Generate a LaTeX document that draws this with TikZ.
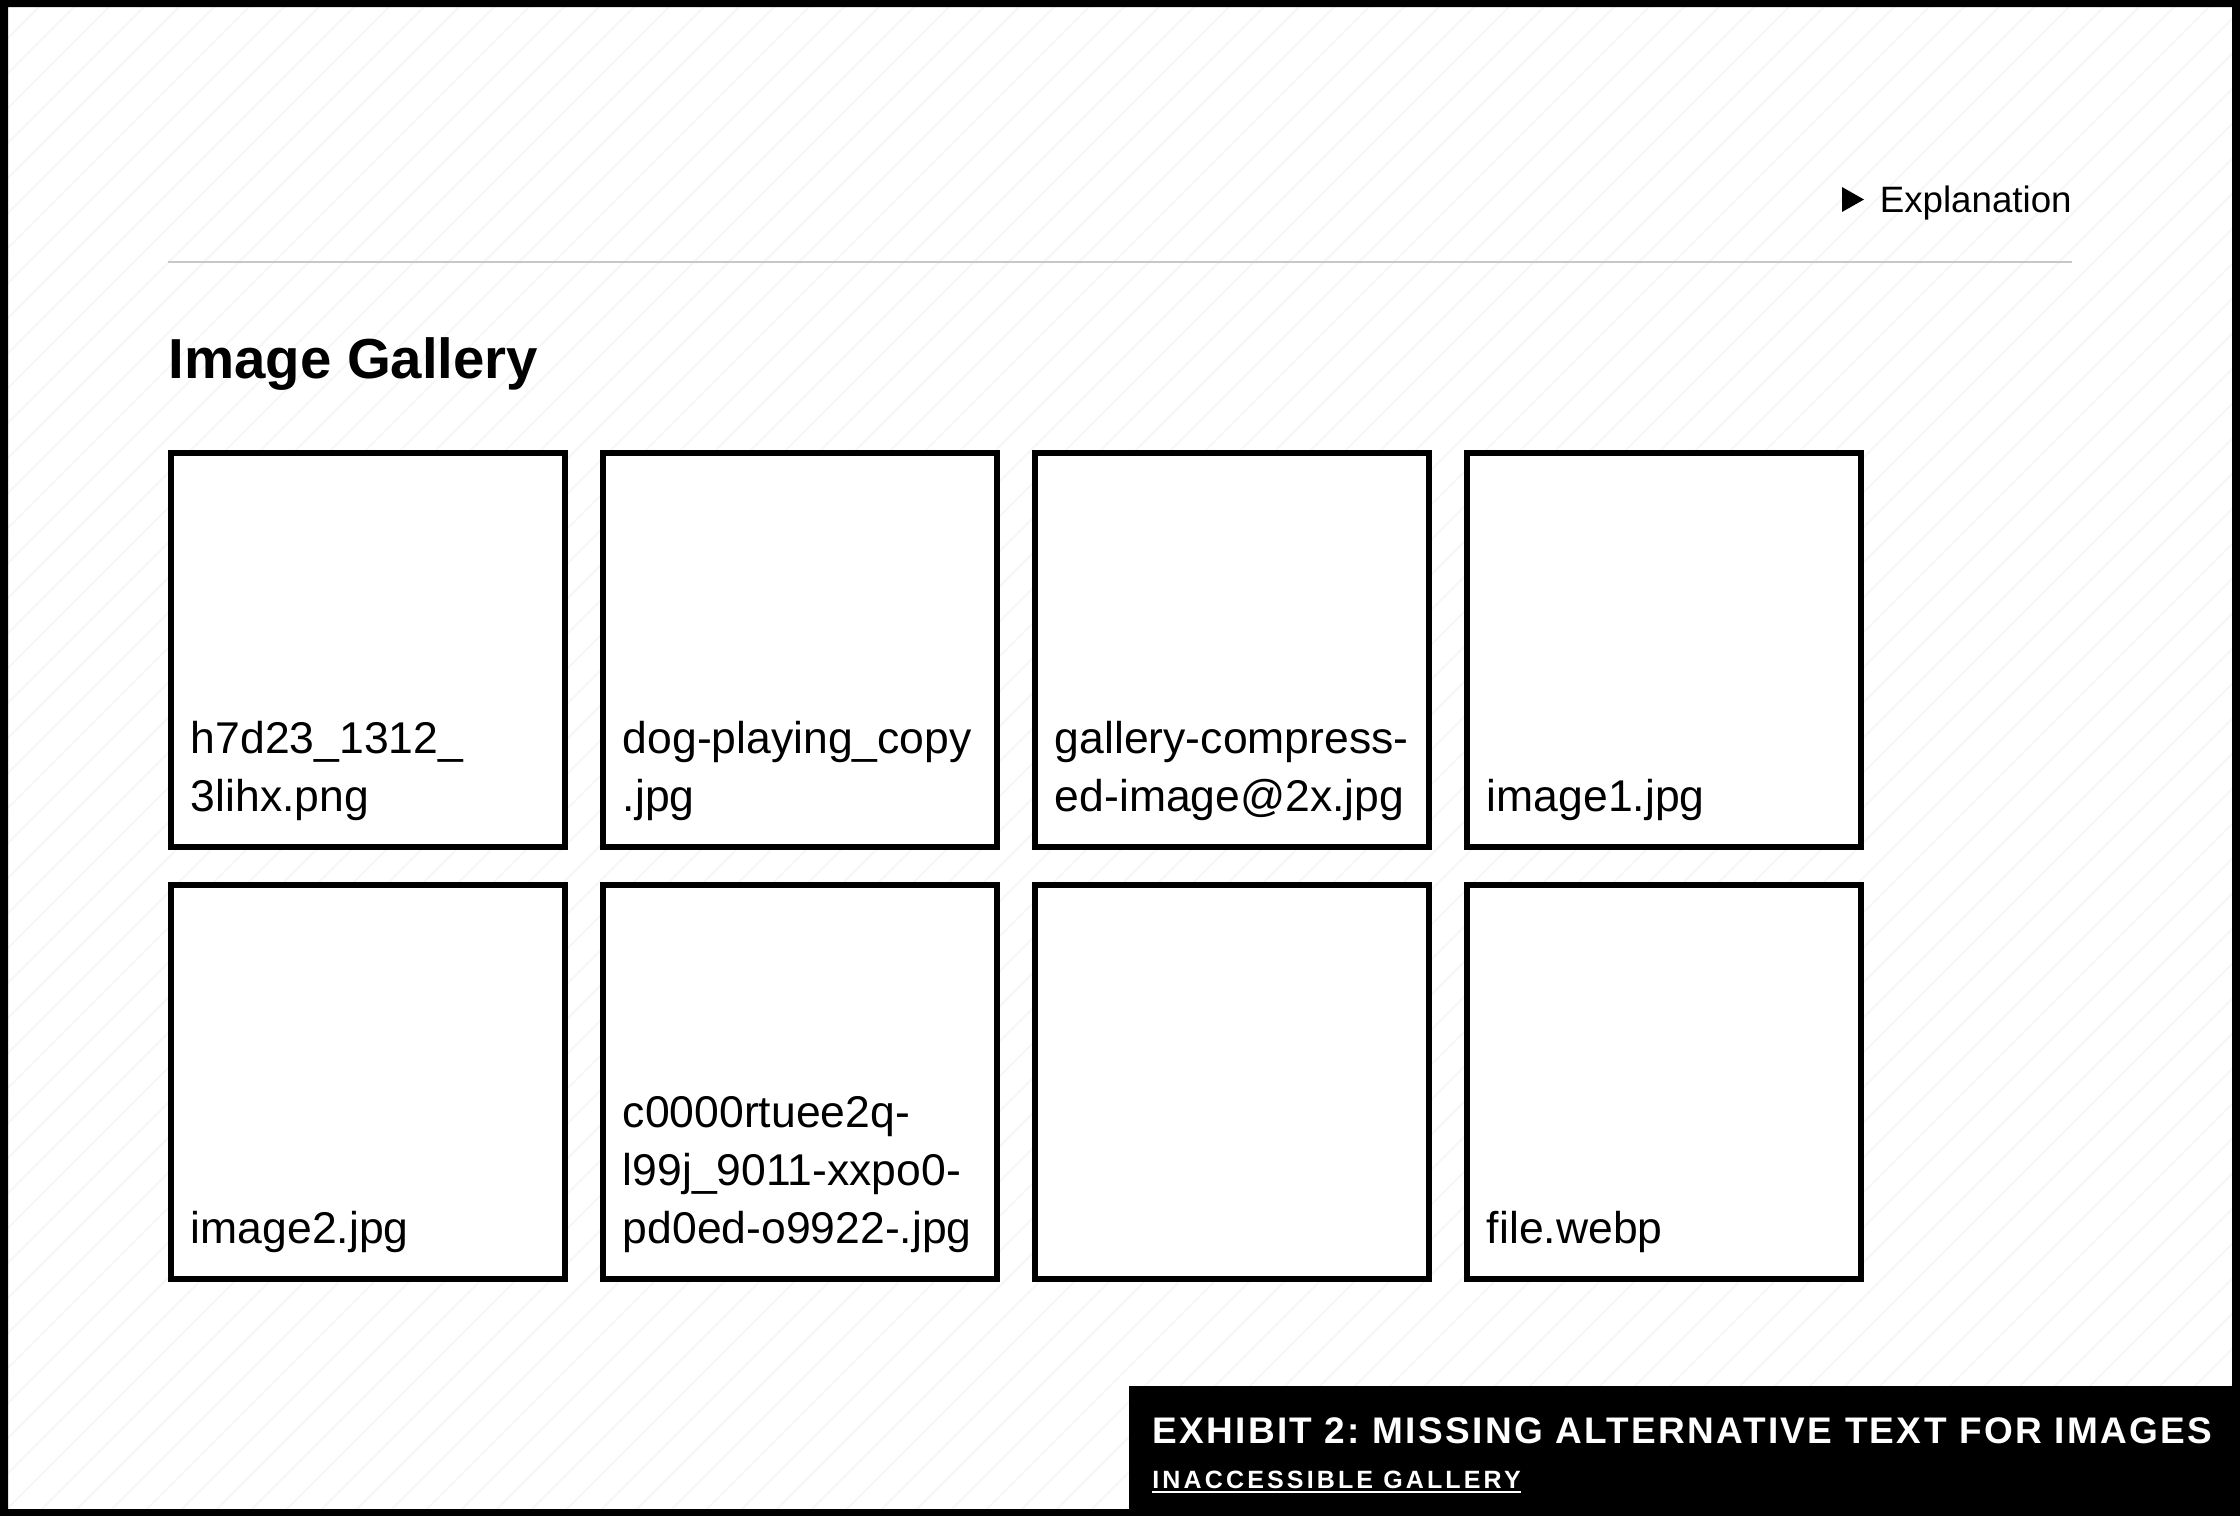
\documentclass[tikz,border=0pt]{standalone}
\usepackage{fontspec}
\setmainfont{Liberation Sans}
\newfontfamily\exhibitfont[LetterSpace=6.3]{Liberation Sans}
\newfontfamily\gallerytag[LetterSpace=12.6]{Liberation Sans}
\usetikzlibrary{positioning}
\colorlet{myhatch}{black!3}
\colorlet{myrule}{black!22}
\frenchspacing

\begin{document}
\begin{tikzpicture}[x=0.5pt,y=-0.5pt]
\useasboundingbox (0,0) rectangle (2240,1516);
\fill[white] (0,0) rectangle (2240,1516);
\begin{scope}
\clip (8,7) rectangle (2232,1509);
\foreach \k in {-1540,-1505,...,2240}
  \draw[myhatch, line width=1pt] (\k,1516) -- ++(1516,-1516);
\end{scope}
\fill[black, even odd rule] (-10,-10) rectangle (2250,1526) (8,7) rectangle (2232,1509);
\tikzset{TileStyle/.style ={draw, line width=3pt, fill=white, minimum size=197pt, inner sep=0pt}}
\tikzset{NameStyle/.style ={inner sep=0pt, align=left, font=\fontsize{22.25pt}{29pt}\selectfont}}
\node[anchor=base east, inner sep=0pt, font=\fontsize{18.35pt}{22pt}\selectfont] (explain) at (2072,212) {Explanation};
\fill (1842,187) -- (1864,199.5) -- (1842,212) -- cycle;
\draw[myrule, line width=1pt] (168,262) -- (2072,262);
\node[anchor=base west, inner sep=0pt, font=\bfseries\fontsize{28.2pt}{34pt}\selectfont] (title) at (168,378) {Image Gallery};
\node[TileStyle] (img1) at (368,650) {};
\node[TileStyle] (img2) at (800,650) {};
\node[TileStyle] (img3) at (1232,650) {};
\node[TileStyle] (img4) at (1664,650) {};
\node[TileStyle] (img5) at (368,1082) {};
\node[TileStyle] (img6) at (800,1082) {};
\node[TileStyle] (img7) at (1232,1082) {};
\node[TileStyle] (img8) at (1664,1082) {};
\node[NameStyle, above right=14.3pt and 11.25pt of img1.south west] (name1) {h7d23\_1312\_\\3lihx.png};
\node[NameStyle, above right=14.3pt and 11.25pt of img2.south west] (name2) {dog-playing\_copy\\.jpg};
\node[NameStyle, above right=14.3pt and 11.25pt of img3.south west] (name3) {gallery-compress-\\ed-image@2x.jpg};
\node[NameStyle, above right=14.3pt and 11.25pt of img4.south west] (name4) {image1.jpg};
\node[NameStyle, above right=14.3pt and 11.25pt of img5.south west] (name5) {image2.jpg};
\node[NameStyle, above right=14.3pt and 11.25pt of img6.south west] (name6) {c0000rtuee2q-\\l99j\_9011-xxpo0-\\pd0ed-o9922-.jpg};
\node[NameStyle, above right=14.3pt and 11.25pt of img8.south west] (name8) {file.webp};
\fill[black] (1129,1386) rectangle (2240,1516);
\node[anchor=base west, inner sep=0pt, text=white, font=\exhibitfont\bfseries\fontsize{18.5pt}{22pt}\selectfont] (exhibit) at (1152,1443) {EXHIBIT 2: MISSING ALTERNATIVE TEXT FOR IMAGES};
\node[anchor=base west, inner sep=0pt, text=white, font=\gallerytag\bfseries\fontsize{12.5pt}{15pt}\selectfont] (tag) at (1152,1488) {INACCESSIBLE GALLERY};
\draw[white, line width=1pt] ([yshift=-2pt]tag.base west) -- ([yshift=-2pt]tag.base east);
\end{tikzpicture}
\end{document}
